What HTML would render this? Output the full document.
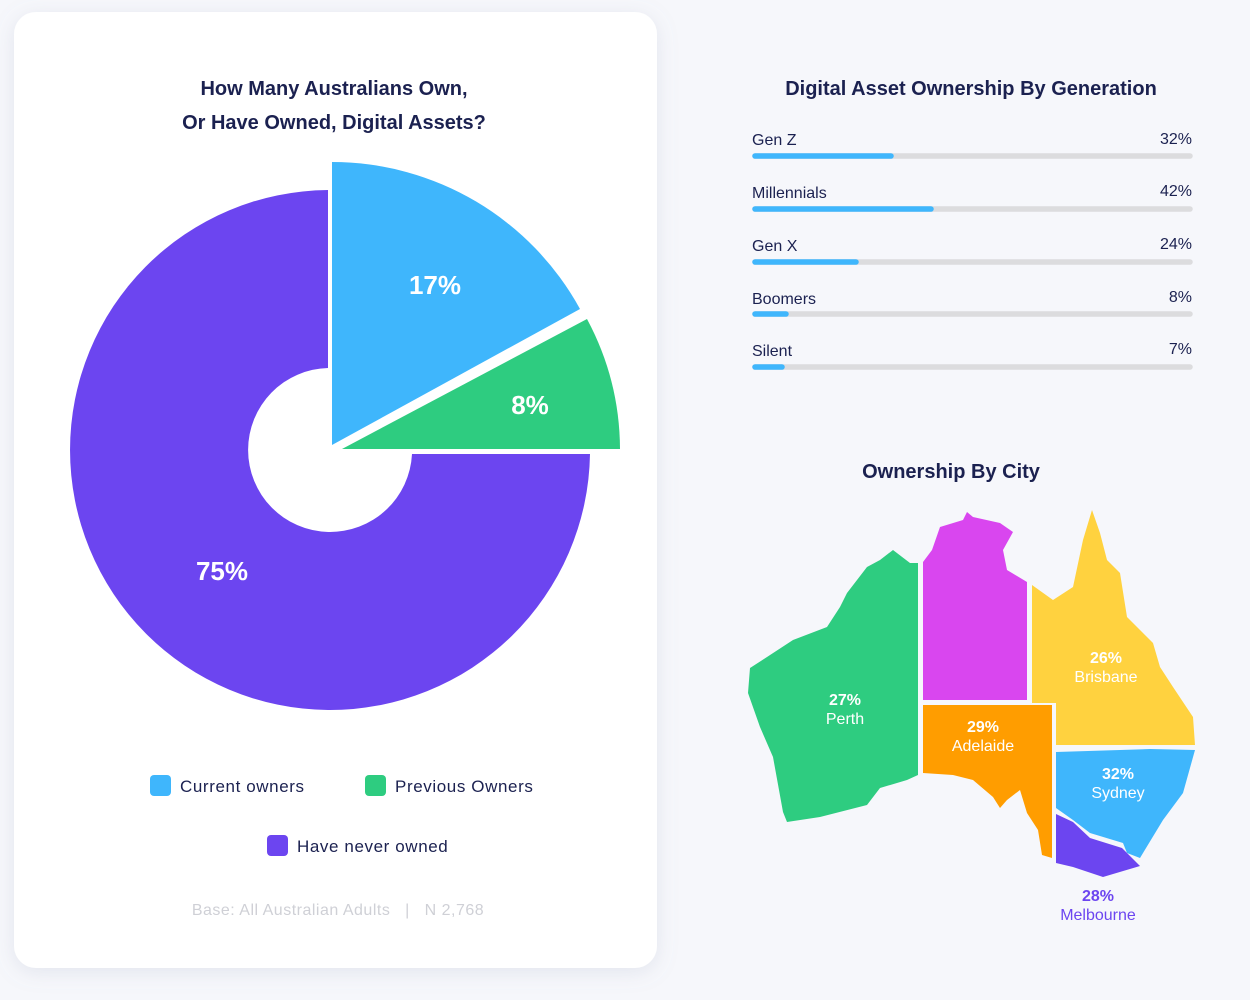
<!DOCTYPE html>
<html><head><meta charset="utf-8"><style>
html,body{margin:0;padding:0;background:#f6f7fb;}
svg{display:block;font-family:"Liberation Sans",sans-serif;}
</style></head><body>
<svg width="1250" height="1000" viewBox="0 0 1250 1000" xmlns="http://www.w3.org/2000/svg">
<defs><filter id="sh" x="-10%" y="-10%" width="120%" height="120%"><feDropShadow dx="0" dy="4" stdDeviation="10" flood-color="#8890b0" flood-opacity="0.18"/></filter></defs>
<rect width="1250" height="1000" fill="#f6f7fb"/>
<rect x="14" y="12" width="643" height="956" rx="22" fill="#fff" filter="url(#sh)"/>
<g fill="#1b2150" font-weight="bold" font-size="20" text-anchor="middle">
<text x="334" y="95">How Many Australians Own,</text>
<text x="334" y="129">Or Have Owned, Digital Assets?</text>
<text x="971" y="95">Digital Asset Ownership By Generation</text>
<text x="951" y="478">Ownership By City</text>
</g>
<!-- pie -->
<path d="M590 454 A260 260 0 1 1 328 190 L328 368 A82 82 0 1 0 412 454 Z" fill="#6c45f0"/>
<path d="M332 445 L332 162 A283 283 0 0 1 580 309 Z" fill="#3fb6fc"/>
<path d="M342 449 L587 319 A278 278 0 0 1 620 449 Z" fill="#2ecc80"/>
<g fill="#fff" font-weight="bold" font-size="26" text-anchor="middle">
<text x="435" y="294">17%</text><text x="530" y="414">8%</text><text x="222" y="580">75%</text>
</g>
<rect x="150" y="775" width="21" height="21" rx="4" fill="#3fb6fc"/>
<rect x="365" y="775" width="21" height="21" rx="4" fill="#2ecc80"/>
<rect x="267" y="835" width="21" height="21" rx="4" fill="#6c45f0"/>
<g fill="#1b2150" font-size="17" letter-spacing="0.6">
<text x="180" y="792">Current owners</text><text x="395" y="792">Previous Owners</text><text x="297" y="852">Have never owned</text>
</g>
<text x="338" y="915" fill="#cfd0d6" font-size="16" text-anchor="middle" letter-spacing="0.5">Base: All Australian Adults  &#160; | &#160;  N 2,768</text>
<!-- bars -->
<g font-size="16" fill="#1b2150">
<text x="752" y="145">Gen Z</text><text x="1192" y="144" text-anchor="end">32%</text>
<text x="752" y="198">Millennials</text><text x="1192" y="196" text-anchor="end">42%</text>
<text x="752" y="251">Gen X</text><text x="1192" y="249" text-anchor="end">24%</text>
<text x="752" y="304">Boomers</text><text x="1192" y="302" text-anchor="end">8%</text>
<text x="752" y="356">Silent</text><text x="1192" y="354" text-anchor="end">7%</text>
</g>
<g stroke-linecap="round" stroke-width="5.5">
<line x1="755" y1="156" x2="1190" y2="156" stroke="#dcdcde"/><line x1="755" y1="156" x2="891" y2="156" stroke="#3fb6fc"/>
<line x1="755" y1="209" x2="1190" y2="209" stroke="#dcdcde"/><line x1="755" y1="209" x2="931" y2="209" stroke="#3fb6fc"/>
<line x1="755" y1="262" x2="1190" y2="262" stroke="#dcdcde"/><line x1="755" y1="262" x2="856" y2="262" stroke="#3fb6fc"/>
<line x1="755" y1="314" x2="1190" y2="314" stroke="#dcdcde"/><line x1="755" y1="314" x2="786" y2="314" stroke="#3fb6fc"/>
<line x1="755" y1="367" x2="1190" y2="367" stroke="#dcdcde"/><line x1="755" y1="367" x2="782" y2="367" stroke="#3fb6fc"/>
</g>
<!-- map -->
<path fill="#2ecc80" d="M893 550 L910 563 L918 563 L918 775 L907 780 L880 788 L867 805 L820 817 L787 822 L783 812 L773 757 L760 727 L748 693 L750 668 L767 657 L793 640 L827 627 L840 607 L847 593 L867 567 L880 560 Z"/>
<path fill="#d946ef" d="M923 562 L932 550 L940 527 L963 520 L967 512 L973 517 L1000 523 L1013 532 L1003 550 L1007 570 L1027 582 L1027 700 L923 700 Z"/>
<path fill="#ffd23f" d="M1032 585 L1053 600 L1073 587 L1083 540 L1092 510 L1100 533 L1107 560 L1120 573 L1127 617 L1153 643 L1160 667 L1173 687 L1193 717 L1195 745 L1056 745 L1056 703 L1032 703 Z"/>
<path fill="#ff9d00" d="M923 705 L1052 705 L1052 858 L1042 855 L1038 830 L1027 813 L1020 790 L1007 800 L1000 808 L993 797 L973 780 L953 775 L923 773 Z"/>
<path fill="#3fb6fc" d="M1056 752 L1150 749 L1195 750 L1183 793 L1163 820 L1140 858 L1127 853 L1123 843 L1090 833 L1073 820 L1056 808 Z"/>
<path fill="#6c45f0" d="M1056 814 L1073 822 L1090 838 L1122 848 L1140 866 L1103 877 L1073 867 L1056 863 Z"/>
<g font-size="16" text-anchor="middle" fill="#fff">
<text x="845" y="705" font-weight="bold">27%</text><text x="845" y="724">Perth</text>
<text x="983" y="732" font-weight="bold">29%</text><text x="983" y="751">Adelaide</text>
<text x="1106" y="663" font-weight="bold">26%</text><text x="1106" y="682">Brisbane</text>
<text x="1118" y="779" font-weight="bold">32%</text><text x="1118" y="798">Sydney</text>
<text x="1098" y="901" font-weight="bold" fill="#6c45f0">28%</text><text x="1098" y="920" fill="#6c45f0">Melbourne</text>
</g>
</svg>
</body></html>
